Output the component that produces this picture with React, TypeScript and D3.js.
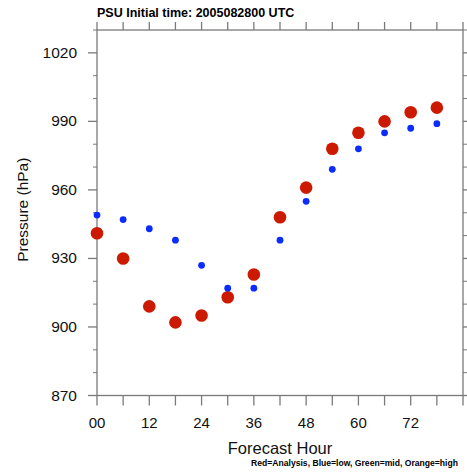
import React from "react";
import * as d3 from "d3";

const hours = [0, 6, 12, 18, 24, 30, 36, 42, 48, 54, 60, 66, 72, 78];
const analysis = [941, 930, 909, 902, 905, 913, 923, 948, 961, 978, 985, 990, 994, 996];
const low = [949, 947, 943, 938, 927, 917, 917, 938, 955, 969, 978, 985, 987, 989];
const xTickLabels = ["00", "12", "24", "36", "48", "60", "72"];
const yTickValues = [870, 900, 930, 960, 990, 1020];

const W = 467;
const H = 473;
const M = { left: 97, right: 463, top: 30, bottom: 395.5 };

export default function App() {
  const x = d3.scaleLinear().domain([0, 84]).range([M.left, M.right]);
  const y = d3.scaleLinear().domain([870, 1030]).range([M.bottom, M.top]);
  const xTicks = d3.range(0, 85, 6);
  const yMinor = d3.range(870, 1031, 10).filter((v) => !yTickValues.includes(v));
  const axis = "#7a7a7a";
  const font = "'Liberation Sans', Arial, Helvetica, sans-serif";

  return (
    <svg
      width={W}
      height={H}
      style={{ position: "absolute", left: 0, top: 0, background: "#fff" }}
      fontFamily={font}
    >
      <rect x={0} y={0} width={W} height={H} fill="#fff" />
      <text x={97} y={17} fontSize={12.5} fontWeight="bold" fill="#000">
        PSU Initial time: 2005082800 UTC
      </text>
      {/* frame */}
      <rect
        x={M.left}
        y={M.top}
        width={M.right - M.left}
        height={M.bottom - M.top}
        fill="none"
        stroke={axis}
        strokeWidth={1.3}
      />
      {/* x ticks top and bottom */}
      {xTicks.map((t) => (
        <g key={"xt" + t}>
          <line x1={x(t)} x2={x(t)} y1={M.bottom} y2={M.bottom + 10} stroke={axis} strokeWidth={1.3} />
          <line x1={x(t)} x2={x(t)} y1={M.top} y2={M.top - 8} stroke={axis} strokeWidth={1.3} />
        </g>
      ))}
      {xTickLabels.map((l) => (
        <text
          key={"xl" + l}
          x={x(+l)}
          y={428}
          fontSize={15}
          textAnchor="middle"
          fill="#111"
        >
          {l}
        </text>
      ))}
      {/* y ticks */}
      {yTickValues.map((v) => (
        <g key={"yt" + v}>
          <line x1={M.left - 9} x2={M.left} y1={y(v)} y2={y(v)} stroke={axis} strokeWidth={1.3} />
          <line x1={M.right} x2={M.right + 9} y1={y(v)} y2={y(v)} stroke={axis} strokeWidth={1.3} />
          <text x={M.left - 20} y={y(v) + 5} fontSize={15.5} textAnchor="end" fill="#111">
            {v}
          </text>
        </g>
      ))}
      {yMinor.map((v) => (
        <g key={"ym" + v}>
          <line x1={M.left - 4} x2={M.left} y1={y(v)} y2={y(v)} stroke={axis} strokeWidth={1} />
          <line x1={M.right} x2={M.right + 4} y1={y(v)} y2={y(v)} stroke={axis} strokeWidth={1} />
        </g>
      ))}
      <text
        transform={`translate(28,${(M.top + M.bottom) / 2 - 3}) rotate(-90)`}
        fontSize={15.5}
        textAnchor="middle"
        fill="#111"
      >
        Pressure (hPa)
      </text>
      <text x={(M.left + M.right) / 2} y={454} fontSize={16.5} textAnchor="middle" fill="#111">
        Forecast Hour
      </text>
      <text x={458} y={466} fontSize={8.6} fontWeight="bold" textAnchor="end" fill="#000">
        Red=Analysis, Blue=low, Green=mid, Orange=high
      </text>
      {/* data */}
      {hours.map((h, i) => (
        <circle key={"r" + h} cx={x(h)} cy={y(analysis[i])} r={6.3} fill="#cc1a00" />
      ))}
      {hours.map((h, i) => (
        <circle key={"b" + h} cx={x(h)} cy={y(low[i])} r={3.4} fill="#0a2cff" />
      ))}
    </svg>
  );
}
